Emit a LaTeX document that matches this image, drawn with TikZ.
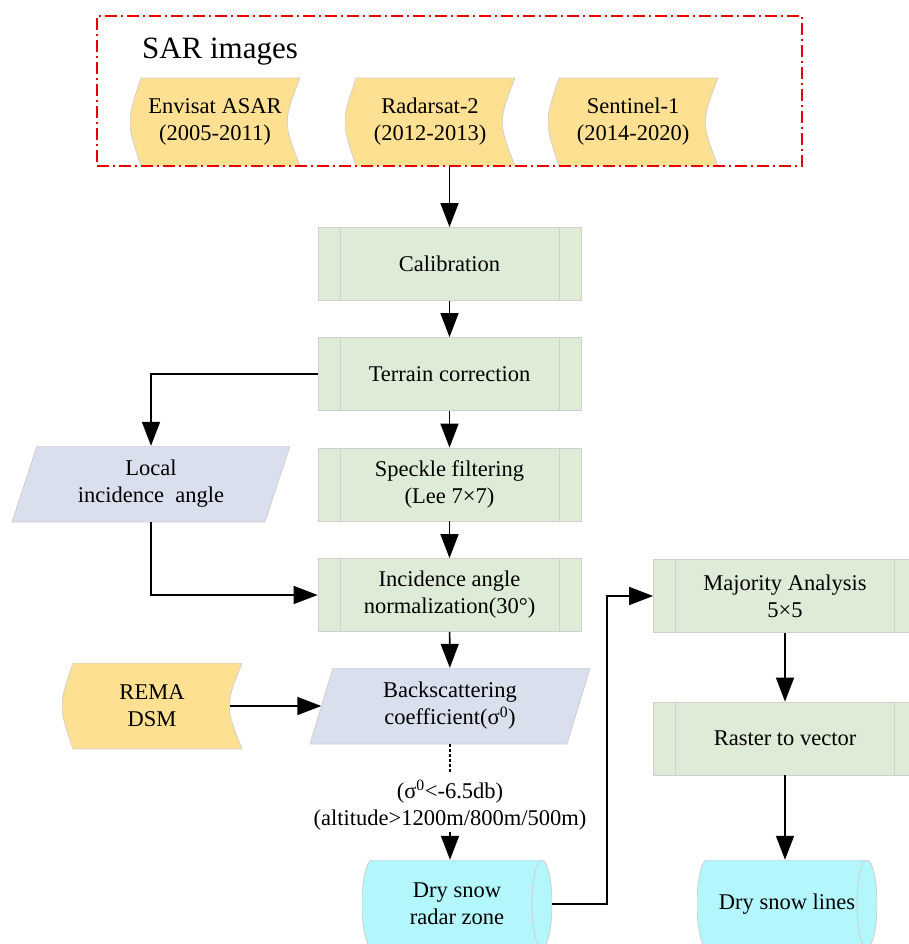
\documentclass[tikz,border=0pt]{standalone}
\usepackage{fontspec}
\setmainfont{Liberation Serif}
\usetikzlibrary{arrows.meta,shapes.geometric,calc}
\definecolor{yel}{RGB}{253,224,146}
\definecolor{grn}{RGB}{222,235,214}
\definecolor{lav}{RGB}{218,223,238}
\definecolor{cyn}{RGB}{179,246,251}
\definecolor{bord}{RGB}{208,208,208}
\definecolor{sarred}{RGB}{232,0,0}
\begin{document}
\begin{tikzpicture}[x=1pt,y=-1pt,
  every node/.style={font=\fontsize{22.5}{27}\selectfont, text=black, align=center},
  proc/.style={rectangle, fill=grn, draw=bord, line width=0.8pt, minimum width=263pt, minimum height=73pt, inner sep=0pt,
     path picture={\draw[bord,line width=0.8pt]
        ([xshift=22pt]path picture bounding box.north west) -- ([xshift=22pt]path picture bounding box.south west)
        ([xshift=-22pt]path picture bounding box.north east) -- ([xshift=-22pt]path picture bounding box.south east);}},
  tape/.style={minimum width=170pt, minimum height=88pt, inner sep=0pt,
     path picture={\filldraw[fill=yel,draw=bord,line width=0.8pt]
        ([xshift=11pt]path picture bounding box.north west) -- (path picture bounding box.north east)
        .. controls ([xshift=-17pt]path picture bounding box.east) .. (path picture bounding box.south east)
        -- ([xshift=11pt]path picture bounding box.south west)
        .. controls ([xshift=-3.7pt]path picture bounding box.west) .. ([xshift=11pt]path picture bounding box.north west) -- cycle;}},
  para/.style={minimum height=76pt, inner sep=0pt,
     path picture={\filldraw[fill=lav,draw=bord,line width=0.8pt]
        ([xshift=#1]path picture bounding box.north west) -- (path picture bounding box.north east)
        -- ([xshift=-#1]path picture bounding box.south east) -- (path picture bounding box.south west) -- cycle;}},
  cyl/.style={minimum width=190pt, minimum height=88pt, inner sep=0pt,
     path picture={\filldraw[fill=cyn,draw=bord,line width=0.8pt]
        ([xshift=10pt]path picture bounding box.north west) -- ([xshift=-10pt]path picture bounding box.north east)
        arc[start angle=90, end angle=-90, x radius=10pt, y radius=44pt]
        -- ([xshift=10pt]path picture bounding box.south west)
        arc[start angle=270, end angle=90, x radius=10pt, y radius=44pt] -- cycle;
        \draw[bord,line width=0.8pt] ([xshift=-10pt]path picture bounding box.north east)
        arc[start angle=90, end angle=270, x radius=10pt, y radius=44pt];}},
  arr/.style={line width=1.6pt, -{Triangle[length=24pt,width=18pt]}}
]
\clip (0,0) rectangle (909,944);
% SAR images group
\node[tape] (envi) at (215,122) {Envisat ASAR\\(2005-2011)};
\node[tape] (rada) at (430,122) {Radarsat-2\\(2012-2013)};
\node[tape] (sent) at (633,122) {Sentinel-1\\(2014-2020)};
\node[draw=sarred, line width=1.5pt, dash pattern=on 12pt off 4pt on 2pt off 4pt,
      minimum width=705pt, minimum height=150pt, inner sep=0pt] (sarbox) at (449.5,91) {};
\node[font=\fontsize{31}{36}\selectfont] (sartitle) at (220,52) {SAR images};
% main chain
\node[proc] (calib) at (449.5,264) {Calibration};
\node[proc] (terr) at (449.5,374) {Terrain correction};
\node[proc] (speck) at (449.5,484.5) {Speckle filtering\\(Lee 7×7)};
\node[proc] (incid) at (449.5,595) {Incidence angle\\normalization(30°)};
\node[para=25pt, minimum width=278pt] (local) at (151,484) {Local\\incidence\ \ angle};
\node[para=23pt, minimum width=280pt] (back) at (450,706) {Backscattering\\coefficient(σ\textsuperscript{0})};
\node[tape, minimum width=180pt, minimum height=86pt] (rema) at (152,706) {REMA\\DSM};
\node[inner sep=2pt] (cond) at (450,805) {(σ\textsuperscript{0}<-6.5db)\\(altitude>1200m/800m/500m)};
\node[cyl] (radar) at (457,904) {Dry snow\\radar zone};
\node[proc] (major) at (785,596) {Majority Analysis\\5×5};
\node[proc] (rast) at (785,738.5) {Raster to vector};
\node[cyl, minimum width=180pt] (lines) at (787,904) {Dry snow lines};
% connectors
\draw[arr] (sarbox.south) -- (calib.north);
\draw[arr] (calib) -- (terr);
\draw[arr] (terr) -- (speck);
\draw[arr] (speck) -- (incid);
\draw[arr] (incid) -- (back);
\draw[arr] (terr.west) -| (local.north);
\draw[arr] (local.south) |- (incid.west);
\draw[arr] ([xshift=-12pt]rema.east) -- ([xshift=11.5pt]back.west);
\draw[line width=2pt, dash pattern=on 3pt off 2pt, shorten >=4pt] (back.south) -- (cond.north);
\draw[arr] (cond.south) -- (cond.south |- radar.north);
\draw[arr] (radar.east) -- ++(55,0) |- (major.west);
\draw[arr] (major) -- (rast);
\draw[arr] (rast.south) -- (rast.south |- lines.north);
\end{tikzpicture}
\end{document}
